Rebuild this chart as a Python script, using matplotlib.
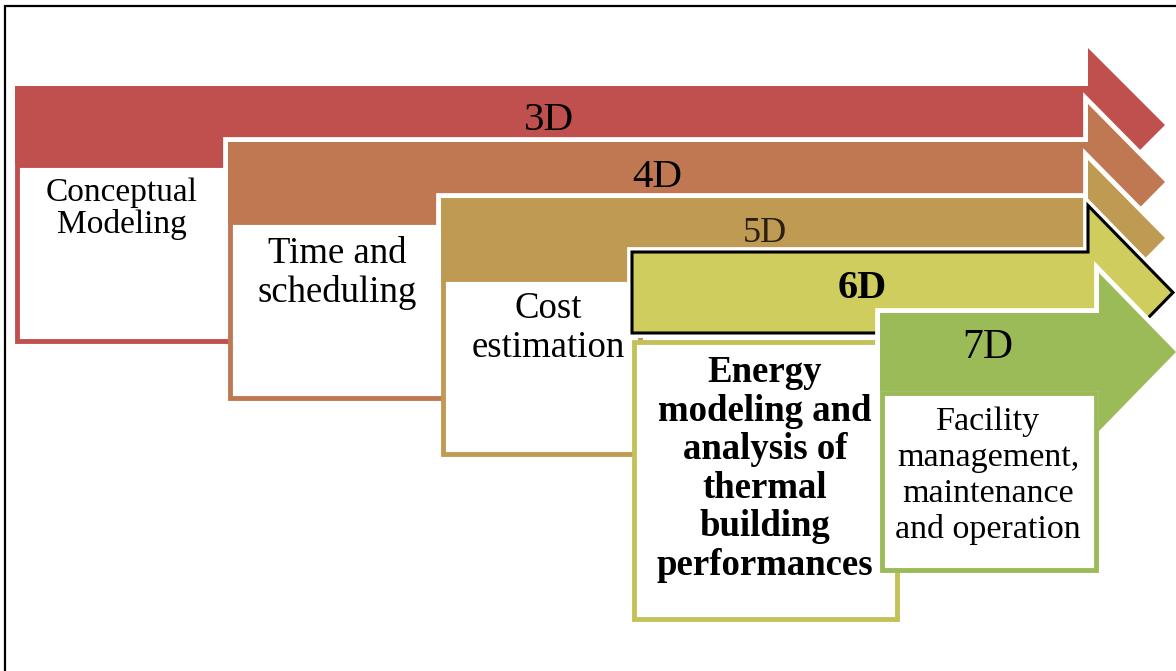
import matplotlib.pyplot as plt
from matplotlib.patches import Polygon, Rectangle

plt.rcParams['font.family'] = ['Liberation Serif', 'DejaVu Serif']

# BIM dimensions, one arrow + one box each
dims = ["3D", "4D", "5D", "6D", "7D"]
descriptions = [
    ["Conceptual", "Modeling"],
    ["Time and", "scheduling"],
    ["Cost", "estimation"],
    ["Energy", "modeling and", "analysis of", "thermal", "building", "performances"],
    ["Facility", "management,", "maintenance", "and operation"],
]
bold = [False, False, False, True, False]

# colours
arrow_colors = ["#c0504d", "#c07852", "#bf9a52", "#cecd5e", "#9bbb59"]
arrow_edges = ["none", "none", "none", "black", "none"]
box_edges = ["#c0504d", "#c07852", "#c09a52", "#c3c25a", "#9bbb59"]

# layout, pixel coordinates with y going down
arrow_left = [15, 228, 441, 632, 880]
arrow_top = [86, 142, 198, 252, 313]
arrow_bottom = [164, 222, 278, 333, 391]
shaft_end = [1088, 1088, 1088, 1088, 1099]
tip_x = [1165, 1165, 1165, 1173, 1176]
head_half = [77, 78, 78, 87, 79]

label_x = [549, 657, 765, 862, 988]
label_base = [130, 187, 242, 298, 358]
label_size = [29.5, 29.5, 26, 29, 30]

box_left = [17, 230, 443, 634, 882]
box_top = [165, 222, 279, 342, 393]
box_right = [232, 446, 640, 897, 1096]
box_bottom = [341, 398, 454, 619, 570]

text_x = [122, 337, 548, 765, 988]
text_base = [201, 263, 318, 382, 430]
line_step = [32, 39, 39, 38.6, 36]
text_size = [24, 26.5, 26.5, 26.5, 24.5]

fig = plt.figure(figsize=(11.76, 6.71), dpi=100)
ax = fig.add_axes([0, 0, 1, 1])
ax.set_xlim(0, 1176)
ax.set_ylim(671, 0)
ax.axis("off")

# frame (only top and left edges visible)
ax.plot([5, 5, 1176], [671, 6, 6], color="black", lw=1.6, zorder=100,
        solid_joinstyle="miter")

for i in range(len(dims)):
    z = 2 + 4 * i
    ctr = (arrow_top[i] + arrow_bottom[i]) / 2
    pts = [
        (arrow_left[i], arrow_top[i]),
        (shaft_end[i], arrow_top[i]),
        (shaft_end[i], ctr - head_half[i]),
        (tip_x[i], ctr),
        (shaft_end[i], ctr + head_half[i]),
        (shaft_end[i], arrow_bottom[i]),
        (arrow_left[i], arrow_bottom[i]),
    ]
    # white halo separating the arrow from the one behind it
    ax.add_patch(Polygon(pts, closed=True, facecolor="white",
                         edgecolor="white", lw=7, joinstyle="miter",
                         zorder=z - 0.2))
    lw = 2.2 if arrow_edges[i] == "black" else 0
    ax.add_patch(Polygon(pts, closed=True, facecolor=arrow_colors[i],
                         edgecolor=arrow_edges[i], lw=lw, joinstyle="miter",
                         zorder=z))
    ax.text(label_x[i], label_base[i], dims[i], ha="center", va="baseline",
            fontsize=label_size[i], fontweight="bold" if bold[i] else "normal",
            color="#2a2010" if i == 2 else "black", zorder=z + 0.5)

    ax.add_patch(Rectangle((box_left[i], box_top[i]),
                           box_right[i] - box_left[i],
                           box_bottom[i] - box_top[i],
                           facecolor="white", edgecolor=box_edges[i], lw=3.5,
                           joinstyle="miter", zorder=z + 1))
    for k, line in enumerate(descriptions[i]):
        ax.text(text_x[i], text_base[i] + k * line_step[i], line,
                ha="center", va="baseline", fontsize=text_size[i],
                fontweight="bold" if bold[i] else "normal", zorder=z + 1.5)

fig.savefig("out.png", dpi=100)
